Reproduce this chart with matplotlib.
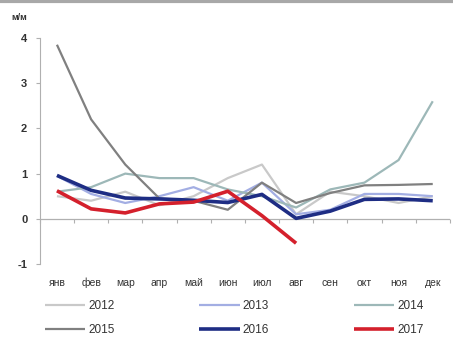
import numpy as np
import matplotlib
matplotlib.use("Agg")
import matplotlib.pyplot as plt
from matplotlib.lines import Line2D

plt.rcParams["font.family"] = ["Liberation Sans", "DejaVu Sans"]

months = ["янв", "фев", "мар", "апр", "май", "июн", "июл", "авг", "сен", "окт", "ноя", "дек"]

y2012 = [0.5, 0.4, 0.6, 0.3, 0.5, 0.9, 1.2, 0.1, 0.6, 0.5, 0.35, 0.5]
y2013 = [0.95, 0.55, 0.35, 0.5, 0.7, 0.4, 0.8, 0.1, 0.2, 0.55, 0.55, 0.5]
y2014 = [0.6, 0.7, 1.0, 0.9, 0.9, 0.65, 0.5, 0.25, 0.65, 0.8, 1.3, 2.6]
y2015 = [3.85, 2.2, 1.2, 0.45, 0.4, 0.2, 0.8, 0.35, 0.57, 0.74, 0.75, 0.77]
y2016 = [0.96, 0.63, 0.46, 0.44, 0.41, 0.36, 0.54, 0.01, 0.17, 0.43, 0.44, 0.4]
y2017 = [0.62, 0.22, 0.13, 0.33, 0.37, 0.61, 0.07, -0.54]

series = [
    ("2012", y2012, "#c9c9c9", 1.6),
    ("2013", y2013, "#a3aee3", 1.6),
    ("2014", y2014, "#9db8b8", 1.6),
    ("2015", y2015, "#808080", 1.6),
    ("2016", y2016, "#1e2d84", 2.6),
    ("2017", y2017, "#d4202c", 2.6),
]

fig = plt.figure(figsize=(4.53, 3.42), dpi=100)
ax = fig.add_axes([0.088, 0.228, 0.905, 0.661])

x = np.arange(len(months))
handles = {}
for name, vals, color, lw in series:
    (h,) = ax.plot(x[:len(vals)], vals, color=color, lw=lw, solid_capstyle="butt")
    handles[name] = h

ax.set_xlim(-0.5, len(months) - 0.5)
ax.set_ylim(-1, 4)
ax.set_yticks([-1, 0, 1, 2, 3, 4])
ax.set_yticklabels(["-1", "0", "1", "2", "3", "4"])
ax.tick_params(axis="y", length=3, color="#b0b0b0", labelsize=8, labelcolor="#333333", pad=6)
for lab in ax.get_yticklabels():
    lab.set_fontweight("bold")

ax.set_xticks(x)
ax.set_xticklabels(months, fontsize=7.5, color="#333333")
ax.tick_params(axis="x", length=0, pad=10)

for s in ["top", "right", "bottom"]:
    ax.spines[s].set_visible(False)
ax.spines["left"].set_color("#b0b0b0")

# zero line with category tick marks
ax.axhline(0, color="#b0b0b0", lw=0.9, zorder=0)
sec = ax.secondary_xaxis(0.2)
sec.set_xticks(np.arange(len(months) + 1) - 0.5)
sec.set_xticklabels([])
sec.tick_params(length=3, color="#b0b0b0", direction="out")
sec.spines["bottom"].set_visible(False)

fig.text(0.025, 0.948, "м/м", fontsize=6.5, color="#333333", fontweight="bold", va="center")

# grey strip at top edge
fig.add_artist(Line2D([0, 1], [0.996, 0.996], transform=fig.transFigure, color="#a8a8a8", lw=3))

order = ["2012", "2015", "2013", "2016", "2014", "2017"]
fig.legend([handles[n] for n in order], order, loc="upper left",
           bbox_to_anchor=(45 / 453, 1 - 300 / 342),
           ncol=3, frameon=False, fontsize=8.5, handlelength=3.4, handletextpad=0.25,
           columnspacing=7.2, labelspacing=1.0, borderpad=0, borderaxespad=0,
           labelcolor="#333333")

fig.savefig("out.png", dpi=100)
